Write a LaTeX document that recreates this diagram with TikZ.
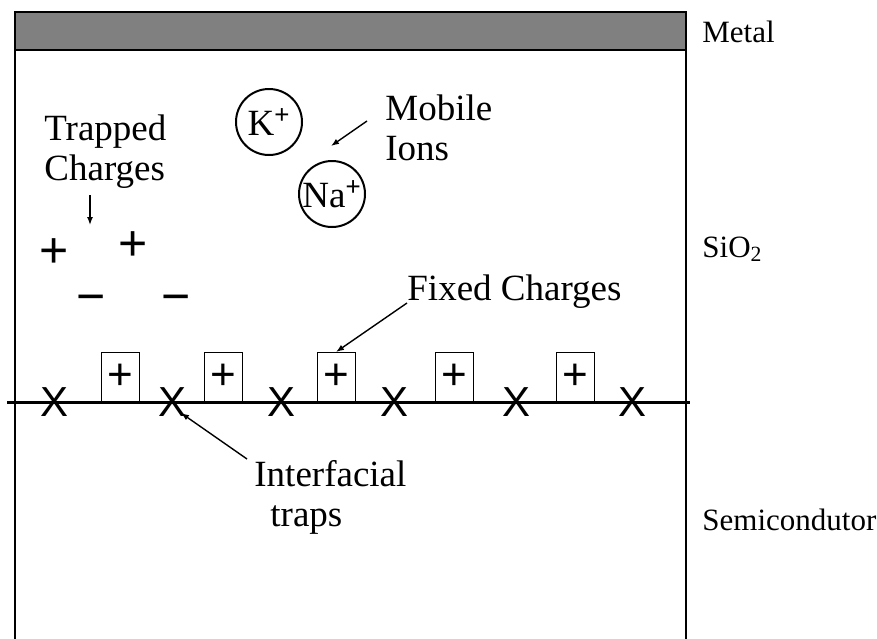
\documentclass[tikz,border=0pt]{standalone}
\usepackage{fontspec}
\setmainfont{Liberation Serif}
\newfontfamily\chargefont{Liberation Sans}
\usetikzlibrary{arrows.meta,positioning}

\begin{document}
\begin{tikzpicture}[x=0.5pt, y=-0.5pt,
    label/.style={inner sep=0pt, anchor=base west, align=left, font=\fontsize{18.5}{20}\selectfont},
    layer/.style={inner sep=0pt, anchor=base west, font=\fontsize{15.5}{17}\selectfont},
    ion/.style={circle, draw, line width=1pt, minimum size=33pt, inner sep=0pt, font=\fontsize{18.5}{20}\selectfont},
    fixedbox/.style={rectangle, draw, line width=0.5pt, minimum width=19pt, minimum height=24.5pt, inner sep=0pt, anchor=south, font=\chargefont\fontsize{22}{22}\selectfont},
    trap/.style={inner sep=0pt, font=\chargefont\fontsize{21}{21}\selectfont},
    charge/.style={inner sep=0pt, font=\chargefont\fontsize{25}{25}\selectfont},
    arrowstyle/.style={-{Latex[length=4pt,width=3pt]}, line width=0.7pt}
  ]
  \useasboundingbox (0,0) rectangle (877,638);

  % layers
  \draw[fill=gray, line width=1pt] (15,12) rectangle (686,50);
  \draw[line width=1pt] (15,50) -- (15,640) (686,50) -- (686,640);
  \draw[line width=1.5pt] (7,402) -- (690,402);

  \node[layer] (metal) at (702,42) {Metal};
  \node[layer] (sio2) at (702,257) {SiO\textsubscript{2}};
  \node[layer] (semi) at (702,530) {Semicondutor};

  % fixed charges and interface traps
  \foreach \x [count=\i] in {120,223,336,454,575}
    \node[fixedbox] (fc\i) at (\x,402) {+};
  \foreach \x [count=\i] in {55,173,282,395,516,632}
    \node[trap] (it\i) at (\x,402) {X};

  % trapped charges
  \node[charge] (p1) at (54,253) {+};
  \node[charge] (p2) at (133,246) {+};
  \node[charge] (m1) at (91,304) {−};
  \node[charge] (m2) at (176,304) {−};

  % mobile ions
  \node[ion] (k) at (269,122) {K\textsuperscript{\chargefont +}};
  \node[ion] (na) at (332,194) {Na\textsuperscript{\chargefont +}};

  % labels
  \node[label] (trapped) at (44,180) {Trapped\\Charges};
  \node[label] (mobile) at (385,160) {Mobile\\Ions};
  \node[label] (fixed) at (407,300) {Fixed Charges};
  \node[label] (interf) at (254,526) {Interfacial\\\hspace*{8pt}traps};

  \coordinate (trapTail) at (90,195);
  \coordinate (trapHead) at (90,225);
  \coordinate (mobTail) at (367,121);
  \coordinate (mobHead) at (331,146);
  \coordinate (fixTail) at (407,303);
  \coordinate (intTail) at (247,459);
  \coordinate (intHead) at (181,413);

  \draw[arrowstyle] (trapTail) -- (trapHead);
  \draw[arrowstyle] (mobTail) -- (mobHead);
  \draw[arrowstyle] (fixTail) -- (fc3.north);
  \draw[arrowstyle] (intTail) -- (intHead);
\end{tikzpicture}
\end{document}
